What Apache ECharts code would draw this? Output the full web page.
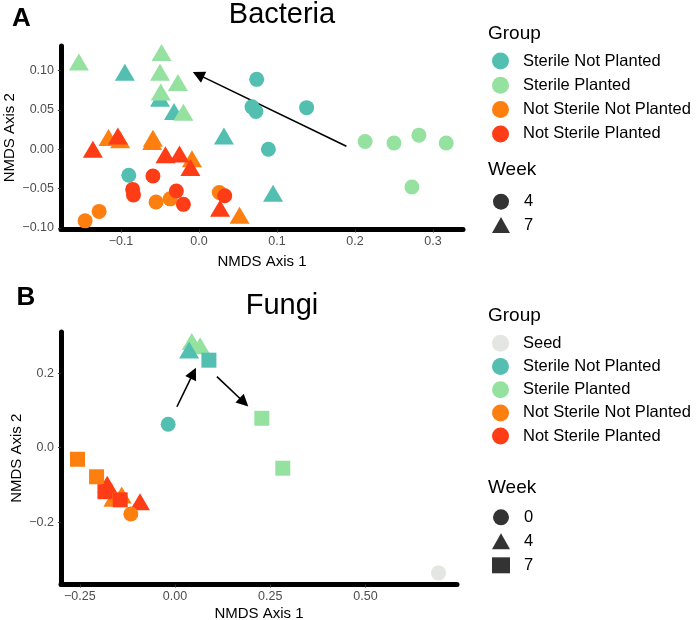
<!DOCTYPE html>
<html>
<head>
<meta charset="utf-8">
<script src="https://cdn.jsdelivr.net/npm/echarts@6/dist/echarts.min.js"></script>
<style>
html, body { margin: 0; padding: 0; background: #fff; }
#chart { width: 698px; height: 620px; }
</style>
</head>
<body>
<div id="chart"></div>
<script>
// 分组与颜色
const groupNames = ['Seed', 'Sterile Not Planted', 'Sterile Planted', 'Not Sterile Not Planted', 'Not Sterile Planted'];
const groupColors = ['#e4e6e1', '#52bfb0', '#95e1a0', '#fd7f10', '#fe3c16'];
const weekNames = ['0', '4', '7'];

// A: Bacteria NMDS [axis1, axis2]
const bacSNP4 = [[0.074, 0.089], [0.068, 0.054], [0.073, 0.048], [0.138, 0.053], [0.089, 0.000], [-0.090, -0.033]];
const bacSNP7 = [[-0.095, 0.098], [-0.050, 0.065], [-0.032, 0.048], [0.032, 0.017], [0.095, -0.056]];
const bacSP4 = [[0.213, 0.010], [0.250, 0.008], [0.282, 0.018], [0.317, 0.008], [0.273, -0.048]];
const bacSP7 = [[-0.154, 0.111], [-0.048, 0.123], [-0.050, 0.098], [-0.027, 0.085], [-0.049, 0.073], [-0.020, 0.047]];
const bacNSNP4 = [[-0.146, -0.091], [-0.128, -0.079], [-0.055, -0.067], [-0.037, -0.063], [0.026, -0.055]];
const bacNSNP7 = [[-0.116, 0.015], [-0.101, 0.012], [-0.059, 0.014], [-0.060, 0.010], [-0.009, -0.012], [0.052, -0.084]];
const bacNSP4 = [[-0.085, -0.051], [-0.084, -0.058], [-0.059, -0.034], [-0.029, -0.053], [-0.020, -0.070], [0.033, -0.059]];
const bacNSP7 = [[-0.136, 0.000], [-0.104, 0.017], [-0.043, -0.007], [-0.025, -0.006], [-0.011, -0.023], [0.027, -0.075]];
const bacArrows = [[[0.189, 0.004], [-0.001, 0.095]]];

// B: Fungi NMDS
const funSeed0 = [[0.692, -0.336]];
const funSNP0 = [[-0.018, 0.063]];
const funSNP4 = [[0.037, 0.262]];
const funSNP7 = [[0.089, 0.235]];
const funSP4 = [[0.044, 0.285], [0.066, 0.274]];
const funSP7 = [[0.228, 0.079], [0.283, -0.055]];
const funNSNP0 = [[-0.116, -0.178]];
const funNSNP4 = [[-0.162, -0.136], [-0.140, -0.127]];
const funNSNP7 = [[-0.256, -0.031], [-0.206, -0.078]];
const funNSP4 = [[-0.178, -0.098], [-0.092, -0.145]];
const funNSP7 = [[-0.184, -0.118], [-0.144, -0.140]];
const funArrows = [[[0.005, 0.110], [0.048, 0.200]], [[0.110, 0.191], [0.181, 0.122]]];

// 刻度
const bacXTicks = [-0.1, 0, 0.1, 0.2, 0.3];
const bacYTicks = [-0.10, -0.05, 0, 0.05, 0.10];
const funXTicks = [-0.25, 0, 0.25, 0.50];
const funYTicks = [-0.2, 0, 0.2];

const FONT = '"Liberation Sans", Arial, sans-serif';
const shapeOf = {circle: {symbol: 'circle', size: 15}, triangle: {symbol: 'triangle', size: [20, 17]}, square: {symbol: 'rect', size: 15}};

function pointSeries(grid, group, shape, data) {
    return {
        name: groupNames[group],
        type: 'scatter',
        xAxisIndex: grid,
        yAxisIndex: grid,
        symbol: shapeOf[shape].symbol,
        symbolSize: shapeOf[shape].size,
        itemStyle: {color: groupColors[group], opacity: 1},
        emphasis: {disabled: true},
        data: data
    };
}

function arrowSeries(grid, arrows) {
    return {
        type: 'lines',
        coordinateSystem: 'cartesian2d',
        xAxisIndex: grid,
        yAxisIndex: grid,
        symbol: ['none', 'triangle'],
        symbolSize: 12,
        lineStyle: {color: '#000', width: 1.6, opacity: 1},
        silent: true,
        data: arrows.map(a => ({coords: a}))
    };
}

function fmt(digits) {
    return function (v) {
        return v.toFixed(digits).replace('-', '\u2212');
    };
}

function axis(grid, min, max, ticks, digits, name, nameGap, margin) {
    return {
        type: 'value',
        gridIndex: grid,
        min: min,
        max: max,
        name: name,
        nameLocation: 'middle',
        nameGap: nameGap,
        nameMoveOverlap: false,
        nameTextStyle: {fontFamily: FONT, fontSize: 15, color: '#000'},
        axisLine: {show: true, onZero: false, lineStyle: {color: '#000', width: 5}},
        axisTick: {show: true, length: 3, customValues: ticks, lineStyle: {color: '#333', width: 1}},
        axisLabel: {customValues: ticks, formatter: fmt(digits), fontFamily: FONT, fontSize: 12.5, color: '#4d4d4d', margin: margin},
        splitLine: {show: false}
    };
}

function legend(top, gap, items, w, h) {
    return {
        orient: 'vertical',
        left: 492,
        top: top,
        padding: 0,
        itemGap: gap,
        itemWidth: w,
        itemHeight: h,
        selectedMode: false,
        data: items,
        textStyle: {fontFamily: FONT, fontSize: 16.5, color: '#000', padding: [0, 0, 0, 9]}
    };
}

function label(text, x, y, size, weight, align) {
    return {
        type: 'text',
        x: x,
        y: y,
        style: {text: text, font: weight + ' ' + size + 'px ' + FONT, fill: '#000', align: align, verticalAlign: 'middle'}
    };
}

const chart = echarts.init(document.getElementById('chart'));

const option = {
    animation: false,
    backgroundColor: '#fff',
    grid: [
        {left: 61, top: 46, width: 402, height: 183.5, containLabel: false, outerBoundsMode: 'none'},
        {left: 61, top: 332, width: 396, height: 252.5, containLabel: false, outerBoundsMode: 'none'}
    ],
    xAxis: [
        axis(0, -0.1769, 0.3385, bacXTicks, 1, 'NMDS Axis 1', 25, 6),
        axis(1, -0.2994, 0.7405, funXTicks, 2, 'NMDS Axis 1', 22, 6)
    ],
    yAxis: [
        axis(0, -0.102, 0.1314, bacYTicks, 2, 'NMDS Axis 2', 44, 7),
        axis(1, -0.3672, 0.3106, funYTicks, 1, 'NMDS Axis 2', 37, 7)
    ],
    legend: [
        legend(52.5, 7.3, groupNames.slice(1).map(n => ({name: n, icon: 'circle'})), 17, 17),
        legend(193.2, 6.3, [{name: '4', icon: 'circle'}, {name: '7', icon: 'triangle'}], 18, 16),
        legend(334.8, 6.2, groupNames.map(n => ({name: n, icon: 'circle'})), 17, 17),
        legend(508.8, 7, [{name: '0', icon: 'circle'}, {name: '4', icon: 'triangle'}, {name: '7', icon: 'rect'}], 18, 16)
    ],
    graphic: [
        label('A', 21.5, 19, 26, 'bold', 'center'),
        label('Bacteria', 282, 15, 29, 'normal', 'center'),
        label('Group', 488, 34, 19, 'normal', 'left'),
        label('Week', 488, 170, 19, 'normal', 'left'),
        label('B', 26, 297.5, 26, 'bold', 'center'),
        label('Fungi', 282, 306, 29, 'normal', 'center'),
        label('Group', 488, 316, 19, 'normal', 'left'),
        label('Week', 488, 488, 19, 'normal', 'left')
    ],
    series: [
        pointSeries(0, 1, 'circle', bacSNP4),
        pointSeries(0, 1, 'triangle', bacSNP7),
        pointSeries(0, 2, 'circle', bacSP4),
        pointSeries(0, 2, 'triangle', bacSP7),
        pointSeries(0, 3, 'circle', bacNSNP4),
        pointSeries(0, 3, 'triangle', bacNSNP7),
        pointSeries(0, 4, 'circle', bacNSP4),
        pointSeries(0, 4, 'triangle', bacNSP7),
        arrowSeries(0, bacArrows),

        pointSeries(1, 0, 'circle', funSeed0),
        pointSeries(1, 2, 'triangle', funSP4),
        pointSeries(1, 2, 'square', funSP7),
        pointSeries(1, 1, 'circle', funSNP0),
        pointSeries(1, 1, 'triangle', funSNP4),
        pointSeries(1, 1, 'square', funSNP7),
        pointSeries(1, 3, 'triangle', funNSNP4),
        pointSeries(1, 4, 'triangle', funNSP4),
        pointSeries(1, 3, 'square', funNSNP7),
        pointSeries(1, 4, 'square', funNSP7),
        pointSeries(1, 3, 'circle', funNSNP0),
        arrowSeries(1, funArrows),

        // Week 图例用
        {name: '0', type: 'scatter', xAxisIndex: 1, yAxisIndex: 1, itemStyle: {color: '#000'}, data: []},
        {name: '4', type: 'scatter', xAxisIndex: 1, yAxisIndex: 1, itemStyle: {color: '#000'}, data: []},
        {name: '7', type: 'scatter', xAxisIndex: 1, yAxisIndex: 1, itemStyle: {color: '#000'}, data: []}
    ]
};

chart.setOption(option);
</script>
</body>
</html>
